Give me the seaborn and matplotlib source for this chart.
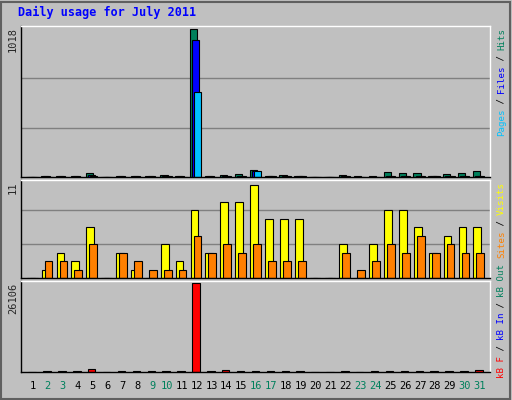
import numpy as np
import matplotlib
matplotlib.use('Agg')
import matplotlib.pyplot as plt
import seaborn as sns

sns.set_style('white')
plt.rcParams['font.family'] = ['DejaVu Sans Mono']

# =========================
# DATA
# =========================

days = list(range(1, 32))
hits = [0, 8, 8, 8, 30, 0, 8, 8, 5, 14, 5, 1018, 8, 12, 18, 50, 8, 12, 8, 0, 0, 12, 4, 4, 35, 30, 28, 10, 18, 28, 38]
files = [0, 6, 6, 6, 12, 0, 6, 6, 4, 8, 4, 940, 6, 8, 10, 44, 6, 10, 6, 0, 0, 8, 3, 3, 10, 10, 10, 6, 8, 10, 10]
pages = [0, 3, 3, 3, 10, 0, 3, 3, 2, 5, 2, 587, 3, 8, 8, 40, 5, 10, 5, 0, 0, 5, 2, 2, 8, 8, 8, 5, 6, 8, 8]
visits = [0, 1, 3, 2, 6, 0, 3, 1, 0, 4, 2, 8, 3, 9, 9, 11, 7, 7, 7, 0, 0, 4, 0, 4, 8, 8, 6, 3, 5, 6, 6]
sites = [0, 2, 2, 1, 4, 0, 3, 2, 1, 1, 1, 5, 3, 4, 3, 4, 2, 2, 2, 0, 0, 3, 1, 2, 4, 3, 5, 3, 4, 3, 3]
kbytes = [0, 250, 250, 250, 900, 0, 250, 250, 250, 250, 250, 26106, 250, 600, 250, 250, 250, 250, 250, 0, 0, 250, 0, 250, 250, 250, 250, 250, 250, 250, 600]
weekend_days = [2, 3, 9, 10, 16, 17, 23, 24, 30, 31]

x = np.array(days, dtype=float)
BG = '#c0c0c0'

fig = plt.figure(figsize=(5.12, 4.0), dpi=100, facecolor=BG)
fig.patches.append(plt.Rectangle((0.002, 0.002), 0.994, 0.994, transform=fig.transFigure,
                                 fill=False, edgecolor='#606060', lw=1.5))

left, width = 21 / 512, 469 / 512
ax1 = fig.add_axes([left, 1 - 177 / 400, width, 151 / 400])
ax2 = fig.add_axes([left, 1 - 278 / 400, width, 98 / 400])
ax3 = fig.add_axes([left, 1 - 372 / 400, width, 91 / 400])

for ax in (ax1, ax2, ax3):
    ax.set_facecolor(BG)
    ax.set_xlim(0.2, 31.7)
    ax.set_xticks([])
    ax.set_yticks([])
    for s in ax.spines.values():
        s.set_color('black')
        s.set_linewidth(1)
    ax.spines['top'].set_color('white')
    ax.spines['right'].set_color('white')

# hits / files / pages
w = 0.48
ax1.set_ylim(0, 1018 * 1.02)
for v in (1018 / 3, 2 * 1018 / 3):
    ax1.axhline(v, color='#808080', lw=1, zorder=0)
ax1.bar(x - 0.2, hits, w, color='#00805c', edgecolor='black', lw=0.8)
ax1.bar(x - 0.06, files, w, color='#0000ff', edgecolor='black', lw=0.8)
ax1.bar(x + 0.08, pages, w, color='#00c0ff', edgecolor='black', lw=0.8)

# visits / sites
ax2.set_ylim(0, 11 * 1.05)
for v in (4, 8):
    ax2.axhline(v, color='#808080', lw=1, zorder=0)
ax2.bar(x - 0.15, visits, 0.52, color='#ffff00', edgecolor='black', lw=0.8)
ax2.bar(x + 0.05, sites, 0.52, color='#ff8000', edgecolor='black', lw=0.8)

# kbytes
ax3.set_ylim(0, 26106 * 1.02)
ax3.bar(x - 0.05, kbytes, 0.5, color='#ff0000', edgecolor='black', lw=0.8)

fs = 7.5
fig.text(18 / 512, 1 - 6 / 400, 'Daily usage for July 2011', color='#0000ff',
         fontsize=8.5, fontweight='bold', va='top', ha='left')
fig.text(8 / 512, 1 - 27 / 400, '1018', rotation=90, fontsize=fs, va='top', ha='left')
fig.text(8 / 512, 1 - 181 / 400, '11', rotation=90, fontsize=fs, va='top', ha='left')
fig.text(8 / 512, 1 - 283 / 400, '26106', rotation=90, fontsize=fs, va='top', ha='left')

CH = 5.4  # pixels per character of the side labels

def side_label(ypix_bottom, parts):
    y = 1 - ypix_bottom / 400
    for txt, col in parts:
        fig.text(497 / 512, y, txt, rotation=90, fontsize=6.6, color=col, va='bottom', ha='left')
        y += len(txt) * CH / 400

side_label(136, [('Pages', '#00c0ff'), (' / ', 'black'), ('Files', '#0000ff'), (' / ', 'black'), ('Hits', '#00805c')])
side_label(258, [('Sites', '#ff8000'), (' / ', 'black'), ('Visits', '#ffff00')])
side_label(378, [('kB F', '#ff0000'), (' / ', 'black'), ('kB In', '#0000ff'), (' / ', 'black'), ('kB Out', '#00805c')])

for d in days:
    col = '#00805c' if d in weekend_days else 'black'
    xp = ax3.transData.transform((d, 0))[0]
    fig.text(xp / 512, 1 - 391 / 400, str(d), fontsize=fs, color=col, ha='center', va='bottom')

fig.savefig('out.png', dpi=100, facecolor=BG)
